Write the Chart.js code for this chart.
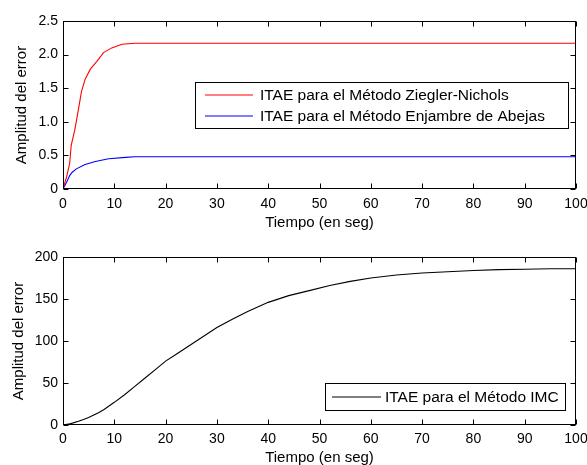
<!DOCTYPE html>
<html>
<head>
<meta charset="utf-8">
<script src="https://cdn.jsdelivr.net/npm/chart.js@4.4.1/dist/chart.umd.min.js"></script>
<style>
  html, body { margin: 0; padding: 0; background: #fff; }
  #wrap { position: relative; width: 587px; height: 465px; overflow: hidden; }
  canvas { position: absolute; left: 0; }
  #top { top: 0; }
  #bottom { top: 240px; }
</style>
</head>
<body>
<div id="wrap">
  <canvas id="top" width="587" height="240"></canvas>
  <canvas id="bottom" width="587" height="225"></canvas>
</div>
<script>
// Datos
const tiempoZN = [0, 0.7, 1.3, 1.6, 2.3, 3.0, 3.6, 4.3, 5.3, 6.6, 7.9, 9.5, 11.5, 14, 100];
const errorZN  = [0, 0.18, 0.38, 0.65, 0.88, 1.18, 1.45, 1.63, 1.78, 1.9, 2.03, 2.1, 2.155, 2.17, 2.17];

const tiempoAB = [0, 0.7, 1.3, 1.8, 2.6, 4.3, 6.3, 8.9, 12.2, 14, 100];
const errorAB  = [0, 0.1, 0.2, 0.25, 0.3, 0.365, 0.41, 0.45, 0.47, 0.48, 0.48];

const tiempoIMC = [0, 1, 2, 3, 4, 5, 6, 7, 8, 10, 12, 14, 16, 18, 20, 22, 24, 26, 28, 30,
                   33, 36, 40, 44, 48, 52, 56, 60, 65, 70, 75, 80, 85, 90, 95, 100];
const errorIMC  = [0, 1, 2.5, 4.4, 6.5, 9, 12, 15, 18.5, 27, 36, 46, 56, 66, 76, 84, 92, 100, 108, 116,
                   126, 135, 146, 154, 160, 166, 171, 175, 178.5, 181, 182.5, 184, 185, 185.5, 186, 186];

const etiquetas = {
  zn: 'ITAE para el Método Ziegler-Nichols',
  ab: 'ITAE para el Método Enjambre de Abejas',
  imc: 'ITAE para el Método IMC'
};

const ROJO = 'rgb(255, 0, 0)';
const AZUL = 'rgb(0, 0, 255)';
const NEGRO = 'rgb(0, 0, 0)';

const FONT = '"Liberation Sans", Arial, Helvetica, sans-serif';

function puntos(xs, ys) {
  return xs.map((t, i) => ({ x: t, y: ys[i] }));
}

// Marco y marcas hacia dentro, estilo MATLAB
const ejesMatlab = {
  id: 'ejesMatlab',
  afterDatasetsDraw(chart) {
    const { ctx, chartArea: a, scales: { x, y } } = chart;
    const L = Math.round(a.left) + 0.5, R = Math.round(a.right) - 0.5;
    const T = Math.round(a.top) + 0.5, B = Math.round(a.bottom) - 0.5;
    ctx.save();
    ctx.strokeStyle = '#000';
    ctx.lineWidth = 1;
    ctx.beginPath();
    x.ticks.forEach(t => {
      const px = Math.round(x.getPixelForValue(t.value)) + 0.5;
      ctx.moveTo(px, B); ctx.lineTo(px, B - 5);
      ctx.moveTo(px, T); ctx.lineTo(px, T + 5);
    });
    y.ticks.forEach(t => {
      const py = Math.round(y.getPixelForValue(t.value)) + 0.5;
      ctx.moveTo(L, py); ctx.lineTo(L + 5, py);
      ctx.moveTo(R, py); ctx.lineTo(R - 5, py);
    });
    ctx.stroke();
    ctx.strokeRect(L, T, R - L, B - T);
    ctx.restore();
  }
};

// Leyenda con recuadro dentro del area de la grafica
const leyendaCaja = {
  id: 'leyendaCaja',
  afterDraw(chart, args, o) {
    if (!o || !o.box) return;
    const { ctx } = chart;
    const b = o.box;
    ctx.save();
    ctx.fillStyle = '#fff';
    ctx.fillRect(b[0], b[1], b[2] - b[0], b[3] - b[1]);
    ctx.strokeStyle = '#000';
    ctx.lineWidth = 1;
    ctx.strokeRect(b[0] + 0.5, b[1] + 0.5, b[2] - b[0], b[3] - b[1]);
    ctx.restore();

    chart.data.datasets.forEach((ds, i) => {
      const yy = o.rows[i];
      ctx.save();
      ctx.strokeStyle = o.colors[i];
      ctx.lineWidth = 1.2;
      ctx.beginPath();
      ctx.moveTo(o.line[0], yy);
      ctx.lineTo(o.line[1], yy);
      ctx.stroke();
      ctx.fillStyle = '#000';
      ctx.font = '15.5px ' + FONT;
      ctx.textBaseline = 'middle';
      ctx.textAlign = 'left';
      ctx.fillText(ds.label, o.textX, yy + 1);
      ctx.restore();
    });
  }
};

function opciones(cfg) {
  return {
    responsive: false,
    animation: false,
    events: [],
    layout: { padding: { left: 0, top: cfg.top, right: 11, bottom: 0 } },
    elements: { point: { radius: 0 }, line: { borderWidth: 1.1, tension: 0 } },
    scales: {
      x: {
        type: 'linear', min: 0, max: 100,
        grid: { display: false, drawTicks: false }, border: { display: false },
        ticks: { stepSize: 10, autoSkip: false, maxRotation: 0, padding: cfg.xPad,
                 color: '#000', font: { family: FONT, size: 14 } },
        title: { display: true, text: 'Tiempo (en seg)', color: '#000',
                 font: { family: FONT, size: 15 }, padding: { top: 0, bottom: cfg.titlePad } },
        afterFit(s) {
          s.height = cfg.xHeight;
          s.paddingLeft = 0; s.paddingRight = 0;
        }
      },
      y: {
        type: 'linear', min: 0, max: cfg.yMax,
        grid: { display: false, drawTicks: false }, border: { display: false },
        ticks: { stepSize: cfg.yStep, autoSkip: false, padding: 5,
                 color: '#000', font: { family: FONT, size: 14 } },
        title: { display: true, text: 'Amplitud del error', color: '#000',
                 font: { family: FONT, size: 15 }, padding: { top: cfg.yTitlePad, bottom: 0 } },
        afterFit(s) {
          s.width = 63;
          s.paddingTop = 0; s.paddingBottom = 0;
        }
      }
    },
    plugins: {
      legend: { display: false },
      tooltip: { enabled: false },
      leyendaCaja: cfg.leyenda
    }
  };
}

// Grafica superior
new Chart(document.getElementById('top'), {
  type: 'line',
  data: {
    datasets: [
      { label: etiquetas.zn, data: puntos(tiempoZN, errorZN), borderColor: ROJO },
      { label: etiquetas.ab, data: puntos(tiempoAB, errorAB), borderColor: AZUL }
    ]
  },
  options: opciones({
    top: 21, xHeight: 51, xPad: 6.5, titlePad: 8.5, yMax: 2.5, yStep: 0.5, yTitlePad: 13,
    leyenda: { box: [195, 82, 568, 128], line: [205, 253], textX: 260, rows: [95, 116],
               colors: [ROJO, AZUL] }
  }),
  plugins: [ejesMatlab, leyendaCaja]
});

// Grafica inferior
new Chart(document.getElementById('bottom'), {
  type: 'line',
  data: {
    datasets: [
      { label: etiquetas.imc, data: puntos(tiempoIMC, errorIMC), borderColor: NEGRO }
    ]
  },
  options: opciones({
    top: 17, xHeight: 40, xPad: 5.5, titlePad: -2, yMax: 200, yStep: 50, yTitlePad: 10,
    leyenda: { box: [325, 143, 565, 170], line: [332, 381], textX: 385, rows: [157],
               colors: [NEGRO] }
  }),
  plugins: [ejesMatlab, leyendaCaja]
});
</script>
</body>
</html>
